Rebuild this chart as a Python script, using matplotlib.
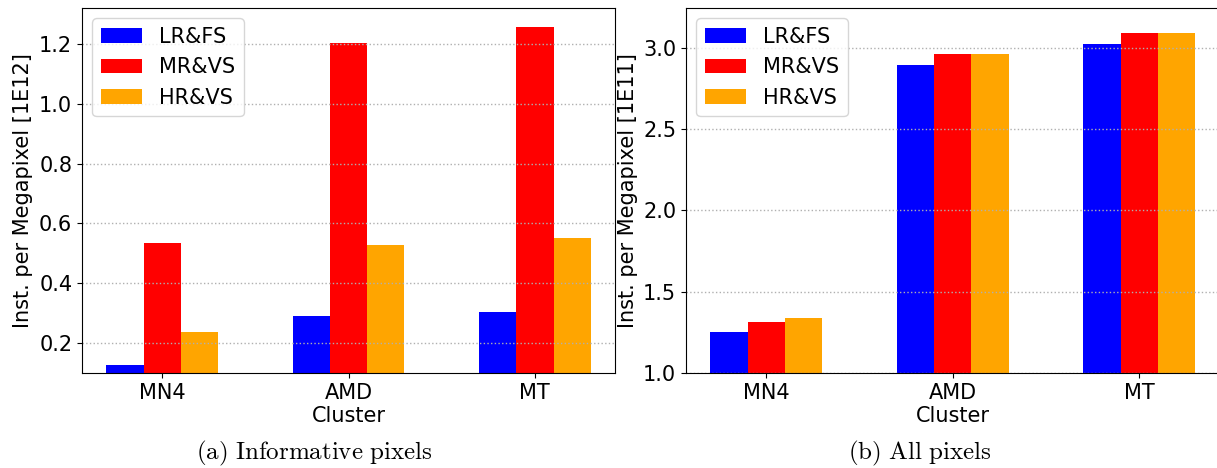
import numpy as np
import matplotlib
matplotlib.use('Agg')
import matplotlib.pyplot as plt

plt.rcParams['mathtext.fontset'] = 'cm'

clusters = ['MN4', 'AMD', 'MT']
series = ['LR&FS', 'MR&VS', 'HR&VS']
colors = ['blue', 'red', 'orange']

# instructions per megapixel, informative pixels only [1E12]
informative = {
    'LR&FS': [0.127, 0.291, 0.303],
    'MR&VS': [0.534, 1.202, 1.256],
    'HR&VS': [0.237, 0.527, 0.551],
}

# instructions per megapixel, all pixels [1E11]
all_pixels = {
    'LR&FS': [1.251, 2.895, 3.025],
    'MR&VS': [1.313, 2.963, 3.093],
    'HR&VS': [1.338, 2.963, 3.093],
}

FS = 15
W = 1217.0
H = 468.0


def plot_panel(ax, data, ylabel, ylim):
    x = np.arange(len(clusters))
    width = 0.2
    for i, (name, color) in enumerate(zip(series, colors)):
        ax.bar(x + (i - 1) * width, data[name], width, color=color, label=name)
    ax.set_xticks(x)
    ax.set_xticklabels(clusters)
    ax.set_ylim(*ylim)
    ax.set_xlabel('Cluster', fontsize=FS, labelpad=2)
    ax.set_ylabel(ylabel, fontsize=FS)
    ax.tick_params(labelsize=FS)
    ax.grid(axis='y', linestyle=':', color='#b0b0b0', linewidth=1.0)
    ax.legend(loc='upper left', fontsize=FS)


fig = plt.figure(figsize=(W / 100, H / 100), dpi=100)

ax1 = fig.add_axes([82 / W, 1 - 373 / H, 533 / W, 365 / H])
ax2 = fig.add_axes([686 / W, 1 - 373 / H, 533.5 / W, 365 / H])

plot_panel(ax1, informative, 'Inst. per Megapixel [1E12]', (0.1, 1.32))
plot_panel(ax2, all_pixels, 'Inst. per Megapixel [1E11]', (1.0, 3.245))

fig.text(314.5 / W, 1 - 453 / H, r'$\mathrm{(a)\ Informative\ pixels}$',
         ha='center', va='center', fontsize=18)
fig.text(920 / W, 1 - 453 / H, r'$\mathrm{(b)\ All\ pixels}$',
         ha='center', va='center', fontsize=18)

fig.savefig('out.png', dpi=100)
